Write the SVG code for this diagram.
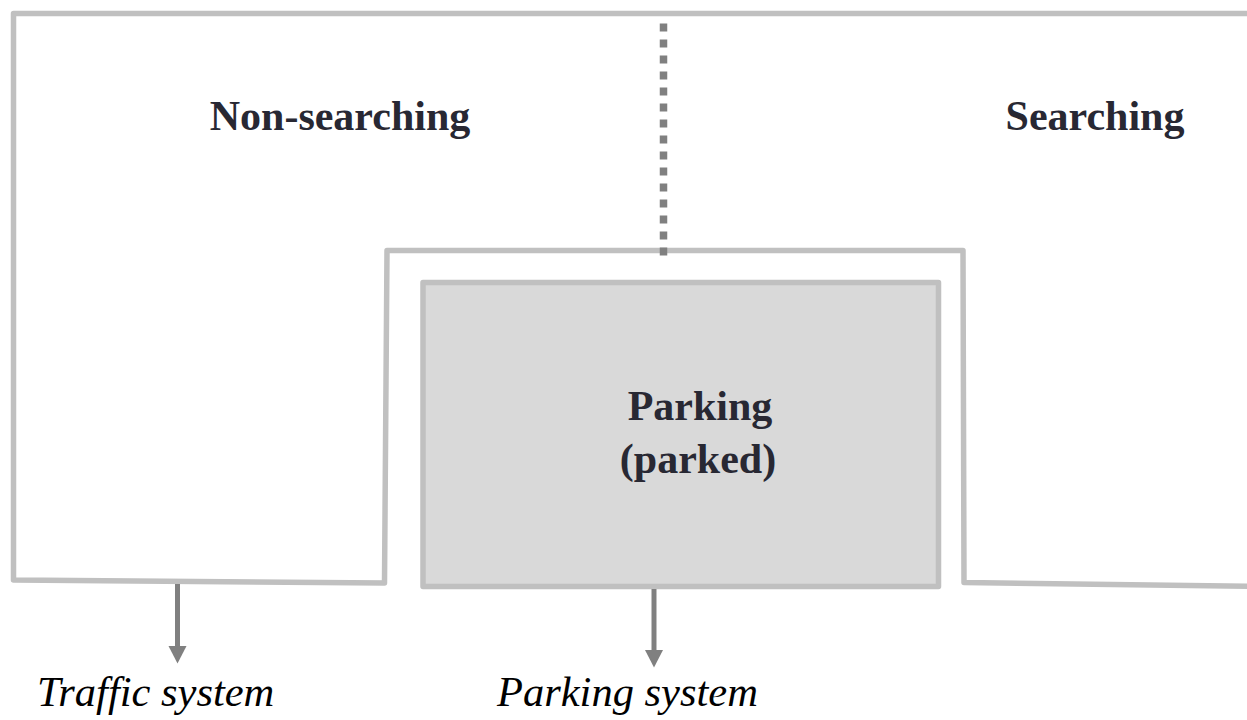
<svg xmlns="http://www.w3.org/2000/svg" width="1247" height="720" viewBox="0 0 1247 720">
  <defs>
    <style>
      .frame { fill: none; stroke: #c0c0c0; stroke-width: 5.5; stroke-linejoin: round; }
      .box { fill: #d9d9d9; stroke: #c0c0c0; stroke-width: 5.5; stroke-linejoin: round; }
      .title { font-family: "Liberation Serif", "Times New Roman", serif; font-weight: bold; font-size: 42px; fill: #282833; text-anchor: middle; }
      .label { font-family: "Liberation Serif", "Times New Roman", serif; font-style: italic; font-size: 42.5px; fill: #000000; }
      .conn { stroke: #808080; stroke-width: 5; fill: none; }
      .dots { stroke: #808080; stroke-width: 7.5; stroke-dasharray: 8 8; fill: none; }
      .head { fill: #808080; }
    </style>
  </defs>

  <g id="states-frame">
    <path class="frame" d="M1260,13.5 L13.5,13.5 L13.5,580 L384.5,583 L387,250.5 L963,250.5 L964,582.5 L1260,586.5"/>
  </g>

  <g id="non-searching">
    <text class="title" x="340" y="130">Non-searching</text>
  </g>

  <g id="searching">
    <text class="title" x="1095" y="130">Searching</text>
  </g>

  <g id="parking">
    <rect class="box" x="423" y="282.5" width="515.5" height="304"/>
    <text class="title" x="700" y="420">Parking</text>
    <text class="title" x="698" y="473">(parked)</text>
  </g>

  <g id="traffic-system">
    <text class="label" x="37" y="706">Traffic system</text>
  </g>

  <g id="parking-system">
    <text class="label" x="497" y="706">Parking system</text>
  </g>

  <g id="connectors">
    <line class="dots" x1="663.5" y1="23.5" x2="663.5" y2="256"/>
    <line class="conn" x1="177.5" y1="584" x2="177.5" y2="647"/>
    <path class="head" d="M168.5,646 L186.5,646 L177.5,663.5 Z"/>
    <line class="conn" x1="654" y1="589" x2="654" y2="651"/>
    <path class="head" d="M645,650 L663,650 L654,667.5 Z"/>
  </g>
</svg>
